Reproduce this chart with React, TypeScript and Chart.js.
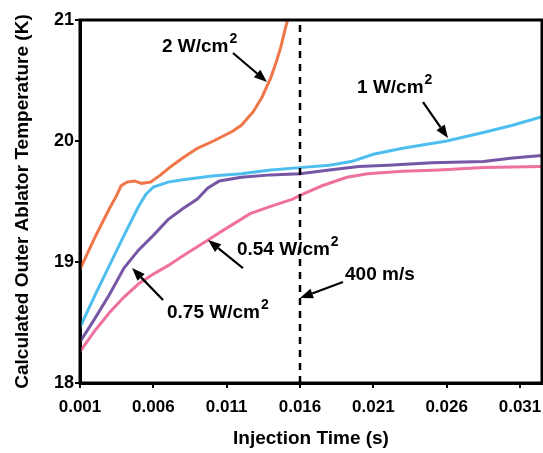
import React, { useEffect, useRef } from 'react';
import { Chart, registerables } from 'chart.js';

Chart.register(...registerables);

const FONT = '"Liberation Sans", Arial, sans-serif';

const xTicks = [0.001, 0.006, 0.011, 0.016, 0.021, 0.026, 0.031];
const yTicks = [18, 19, 20, 21];

const x2W = [0.001, 0.0015, 0.002, 0.0025, 0.003, 0.0035, 0.0038, 0.0042, 0.0047, 0.0052, 0.0058, 0.0065, 0.0072, 0.008, 0.009, 0.0101, 0.0114, 0.012, 0.0128, 0.0134, 0.014, 0.0144, 0.0147, 0.015, 0.0152];
const y2W = [18.94, 19.07, 19.2, 19.32, 19.44, 19.55, 19.63, 19.66, 19.67, 19.65, 19.66, 19.72, 19.79, 19.86, 19.94, 20.0, 20.08, 20.13, 20.24, 20.36, 20.52, 20.66, 20.78, 20.93, 21.02];

const x1W = [0.001, 0.002, 0.003, 0.004, 0.005, 0.0055, 0.006, 0.007, 0.008, 0.01, 0.012, 0.014, 0.016, 0.018, 0.0195, 0.021, 0.023, 0.026, 0.0285, 0.0305, 0.0325];
const y1W = [18.46, 18.72, 18.97, 19.22, 19.46, 19.56, 19.62, 19.66, 19.68, 19.71, 19.73, 19.76, 19.78, 19.8, 19.83, 19.89, 19.94, 20.0, 20.07, 20.13, 20.2];

const x075W = [0.001, 0.002, 0.003, 0.004, 0.005, 0.006, 0.007, 0.008, 0.009, 0.0097, 0.0105, 0.012, 0.014, 0.016, 0.018, 0.02, 0.022, 0.025, 0.0285, 0.0305, 0.0325];
const y075W = [18.34, 18.53, 18.73, 18.95, 19.1, 19.22, 19.35, 19.44, 19.52, 19.61, 19.67, 19.7, 19.72, 19.73, 19.76, 19.79, 19.8, 19.82, 19.83, 19.86, 19.88];

const x054W = [0.001, 0.002, 0.003, 0.004, 0.005, 0.006, 0.007, 0.008, 0.0097, 0.011, 0.0126, 0.014, 0.0155, 0.016, 0.0175, 0.0192, 0.0206, 0.023, 0.0255, 0.0285, 0.0325];
const y054W = [18.26, 18.43, 18.58, 18.71, 18.82, 18.9, 18.97, 19.05, 19.18, 19.28, 19.4, 19.46, 19.52, 19.55, 19.63, 19.7, 19.73, 19.75, 19.76, 19.78, 19.79];

const markerX = [0.016, 0.016];
const markerY = [18, 21];

const annotations = [
  { text: '2 W/cm', sup: '2', x: 0.00659, y: 20.736, tail: [0.01143, 20.727], head: [0.01375, 20.488] },
  { text: '1 W/cm', sup: '2', x: 0.01989, y: 20.397, tail: [0.02439, 20.322], head: [0.02609, 20.025] },
  { text: '0.54 W/cm', sup: '2', x: 0.0117, y: 19.058, tail: [0.01211, 18.95], head: [0.00973, 19.182] },
  { text: '0.75 W/cm', sup: '2', x: 0.00693, y: 18.537, tail: [0.00666, 18.686], head: [0.00455, 18.95] },
  { text: '400 m/s', sup: '', x: 0.01907, y: 18.851, tail: [0.01893, 18.835], head: [0.016, 18.702] },
];

const zip = (xs: number[], ys: number[]) => xs.map((x, i) => ({ x, y: ys[i] }));

const framePlugin = {
  id: 'frame',
  afterDatasetsDraw(chart: any) {
    const { ctx, chartArea, scales } = chart;
    ctx.save();
    ctx.strokeStyle = '#000';
    ctx.lineWidth = 3;
    ctx.strokeRect(chartArea.left, chartArea.top, chartArea.right - chartArea.left, chartArea.bottom - chartArea.top);
    const xs = scales.x;
    const ys = scales.y;
    ctx.fillStyle = '#000';
    ctx.textBaseline = 'alphabetic';
    ctx.textAlign = 'left';
    for (const a of annotations) {
      const px = xs.getPixelForValue(a.x);
      const py = ys.getPixelForValue(a.y);
      ctx.font = `bold 19px ${FONT}`;
      ctx.fillText(a.text, px, py);
      const w = ctx.measureText(a.text).width;
      if (a.sup) {
        ctx.font = `bold 14px ${FONT}`;
        ctx.fillText(a.sup, px + w + 1, py - 9);
      }
      const tx = xs.getPixelForValue(a.tail[0]);
      const ty = ys.getPixelForValue(a.tail[1]);
      const hx = xs.getPixelForValue(a.head[0]);
      const hy = ys.getPixelForValue(a.head[1]);
      const ang = Math.atan2(hy - ty, hx - tx);
      const hl = 13;
      const hw = 5;
      const bx = hx - hl * Math.cos(ang);
      const by = hy - hl * Math.sin(ang);
      ctx.lineWidth = 2.2;
      ctx.beginPath();
      ctx.moveTo(tx, ty);
      ctx.lineTo(bx, by);
      ctx.stroke();
      ctx.beginPath();
      ctx.moveTo(hx, hy);
      ctx.lineTo(bx + hw * Math.sin(ang), by - hw * Math.cos(ang));
      ctx.lineTo(bx - hw * Math.sin(ang), by + hw * Math.cos(ang));
      ctx.closePath();
      ctx.fill();
    }
    ctx.restore();
  },
};

export default function App() {
  const ref = useRef<HTMLCanvasElement>(null);
  useEffect(() => {
    if (!ref.current) return;
    const mk = (label: string, xs: number[], ys: number[], color: string) => ({
      label,
      data: zip(xs, ys),
      borderColor: color,
      backgroundColor: color,
      borderWidth: 3,
      pointRadius: 0,
      tension: 0,
      fill: false,
    });
    const chart = new Chart(ref.current, {
      type: 'line',
      data: {
        datasets: [
          {
            label: '400 m/s',
            data: zip(markerX, markerY),
            borderColor: '#000',
            borderWidth: 2.5,
            borderDash: [7, 6],
            pointRadius: 0,
            fill: false,
          },
          mk('0.54 W/cm²', x054W, y054W, 'rgb(238,113,160)'),
          mk('0.75 W/cm²', x075W, y075W, 'rgb(117,87,166)'),
          mk('1 W/cm²', x1W, y1W, 'rgb(77,190,238)'),
          mk('2 W/cm²', x2W, y2W, 'rgb(238,118,72)'),
        ] as any,
      },
      options: {
        animation: false,
        responsive: false,
        maintainAspectRatio: false,
        layout: { padding: { top: 20, right: 1, left: 0, bottom: 0 } },
        plugins: { legend: { display: false }, tooltip: { enabled: false } },
        scales: {
          x: {
            type: 'linear',
            min: 0.001,
            max: 0.0325,
            afterBuildTicks: (s: any) => {
              s.ticks = xTicks.map((v) => ({ value: v }));
            },
            afterFit: (s: any) => {
              s.height = 70;
              s.paddingLeft = 0;
              s.paddingRight = 0;
            },
            grid: { drawOnChartArea: false, drawTicks: true, tickLength: 5, color: '#000', lineWidth: 2 },
            border: { display: true, color: '#000', width: 3 },
            ticks: {
              color: '#000',
              font: { family: FONT, size: 17, weight: 'bold' },
              padding: 9,
              maxRotation: 0,
              autoSkip: false,
              callback: (v: any) => Number(v).toFixed(3),
            },
            title: {
              display: true,
              text: 'Injection Time (s)',
              color: '#000',
              font: { family: FONT, size: 19, weight: 'bold' },
              padding: { top: 0, bottom: 3 },
            },
          },
          y: {
            type: 'linear',
            min: 18,
            max: 21,
            afterBuildTicks: (s: any) => {
              s.ticks = yTicks.map((v) => ({ value: v }));
            },
            afterFit: (s: any) => {
              s.width = 80;
              s.paddingTop = 0;
              s.paddingBottom = 0;
            },
            grid: { drawOnChartArea: false, drawTicks: true, tickLength: 5, color: '#000', lineWidth: 2 },
            border: { display: true, color: '#000', width: 3 },
            ticks: {
              color: '#000',
              font: { family: FONT, size: 18, weight: 'bold' },
              padding: 1,
              callback: (v: any) => String(v),
            },
            title: {
              display: true,
              text: 'Calculated Outer Ablator Temperature (K)',
              color: '#000',
              font: { family: FONT, size: 19, weight: 'bold' },
              padding: { top: 11, bottom: 0 },
            },
          },
        },
      } as any,
      plugins: [framePlugin],
    });
    return () => chart.destroy();
  }, []);
  return (
    <div style={{ position: 'fixed', left: 0, top: 0, width: 543, height: 453, background: '#fff' }}>
      <canvas ref={ref} width={543} height={453} style={{ display: 'block', width: 543, height: 453 }} />
    </div>
  );
}
